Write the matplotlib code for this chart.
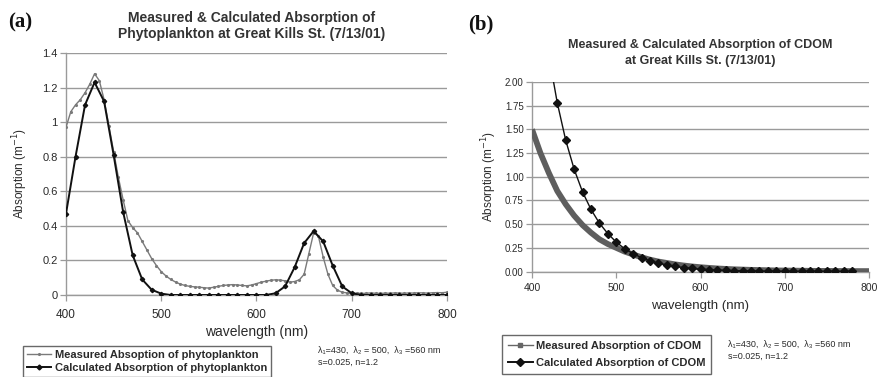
import matplotlib
matplotlib.use("Agg")
from matplotlib import pyplot as plt
from matplotlib.lines import Line2D

# (a) phytoplankton absorption, measured at 5 nm and calculated at 10 nm
wl_meas_a = list(range(400, 805, 5))
meas_a = [0.97, 1.06, 1.10, 1.13, 1.17, 1.22, 1.28, 1.24, 1.13, 0.98,
          0.83, 0.68, 0.55, 0.43, 0.39, 0.36, 0.31, 0.26, 0.21, 0.17,
          0.135, 0.11, 0.09, 0.075, 0.063, 0.055, 0.05, 0.047, 0.045, 0.042,
          0.040, 0.045, 0.050, 0.055, 0.058, 0.060, 0.058, 0.055, 0.053, 0.058,
          0.066, 0.074, 0.080, 0.085, 0.088, 0.086, 0.082, 0.074, 0.078, 0.088,
          0.12, 0.24, 0.36, 0.34, 0.22, 0.12, 0.055, 0.028, 0.016, 0.012,
          0.010, 0.011, 0.009, 0.010, 0.012, 0.010, 0.009, 0.011, 0.010, 0.012,
          0.011, 0.010, 0.012, 0.011, 0.013, 0.012, 0.011, 0.013, 0.014, 0.013,
          0.016]
wl_calc_a = list(range(400, 810, 10))
calc_a = [0.47, 0.80, 1.10, 1.23, 1.12, 0.81, 0.48, 0.23, 0.09, 0.03,
          0.008, 0, 0, 0, 0, 0, 0, 0, 0, 0,
          0, 0, 0.01, 0.05, 0.16, 0.30, 0.37, 0.31, 0.17, 0.05,
          0.01, 0, 0, 0, 0, 0, 0, 0, 0, 0,
          0]

# (b) CDOM absorption
wl_meas_b = list(range(400, 810, 10))
meas_b = [1.50, 1.25, 1.04, 0.85, 0.71, 0.59, 0.49, 0.41, 0.34, 0.29,
          0.25, 0.21, 0.18, 0.15, 0.125, 0.105, 0.09, 0.075, 0.063, 0.053,
          0.045, 0.038, 0.032, 0.027, 0.023, 0.020, 0.017, 0.015, 0.013, 0.011,
          0.010, 0.009, 0.008, 0.007, 0.006, 0.006, 0.005, 0.005, 0.004, 0.004,
          0.004]
wl_calc_b = list(range(420, 790, 10))
calc_b = [2.28, 1.78, 1.386, 1.08, 0.84, 0.655, 0.51, 0.40, 0.31, 0.24,
          0.188, 0.146, 0.114, 0.089, 0.069, 0.054, 0.042, 0.033, 0.025, 0.020,
          0.015, 0.012, 0.009, 0.007, 0.006, 0.0044, 0.0035, 0.0027, 0.0021, 0.0016,
          0.0013, 0.001, 0.0008, 0.0007, 0.0006, 0.0005, 0.0004]

xticks = [400, 500, 600, 700, 800]
yticks_a = [0, 0.2, 0.4, 0.6, 0.8, 1, 1.2, 1.4]
yticks_b = [0, 0.25, 0.5, 0.75, 1.0, 1.25, 1.5, 1.75, 2.0]

SANS = ['Liberation Sans', 'DejaVu Sans']
NARROW = ['Liberation Sans Narrow', 'Liberation Sans', 'DejaVu Sans']
GRID = '#9a9a9a'
TXT = '#2a2a2a'

plt.rcParams['font.family'] = SANS

fig = plt.figure(figsize=(8.79, 3.77), dpi=100)
W, H = 879, 377


def px_axes(x0, y0, x1, y1):
    return fig.add_axes([x0 / W, 1 - y1 / H, (x1 - x0) / W, (y1 - y0) / H])


def style(ax, yticks, fmt, fs_x, fs_y):
    ax.set_xlim(400, 800)
    ax.set_ylim(yticks[0], yticks[-1])
    ax.set_xticks(xticks)
    ax.set_yticks(yticks)
    ax.set_yticklabels([fmt(v) for v in yticks])
    ax.tick_params(axis='x', labelsize=fs_x, colors=GRID, labelcolor=TXT, length=4, width=0.9, pad=6)
    ax.tick_params(axis='y', labelsize=fs_y, colors=GRID, labelcolor=TXT, length=4, width=0.9, pad=2)
    for s in ['top', 'right']:
        ax.spines[s].set_visible(False)
    for s in ['left', 'bottom']:
        ax.spines[s].set_color(GRID)
        ax.spines[s].set_linewidth(1.0)
    ax.grid(axis='y', color=GRID, linewidth=1.0)
    ax.set_axisbelow(True)


def legend(ax, handles, labels, x, y, spacing, pad):
    leg = ax.legend(handles, labels, loc='upper left', bbox_to_anchor=(x / W, 1 - y / H),
                    bbox_transform=fig.transFigure, borderaxespad=0,
                    frameon=True, fancybox=False, handlelength=2.2, handletextpad=0.3, borderpad=pad,
                    labelspacing=spacing, prop={'family': NARROW, 'size': 8, 'weight': 'bold'})
    leg.get_frame().set_edgecolor('#444444')
    leg.get_frame().set_linewidth(1.0)
    for t in leg.get_texts():
        t.set_color(TXT)
    return leg


# panel (a)
ax1 = px_axes(66, 53, 447, 295)
ax1.plot(wl_meas_a, meas_a, color='#7a7a7a', linewidth=1.0, marker='.', markersize=2.5, zorder=3)
ax1.plot(wl_calc_a, calc_a, color='#111111', linewidth=1.4, marker='D', markersize=2.2, zorder=4)
style(ax1, yticks_a, lambda v: '%g' % v, 8.5, 8)
ax1.set_ylabel('Absorption (m$^{-1}$)', fontsize=8.5, color=TXT, labelpad=9)
ax1.set_xlabel('wavelength (nm)', fontsize=10, color=TXT, labelpad=3)

fig.text(252 / W, 1 - 26 / H, 'Measured & Calculated Absorption of\nPhytoplankton at Great Kills St. (7/13/01)',
         ha='center', va='center', fontsize=10, fontweight='bold', color='#333333', linespacing=1.15)
fig.text(8 / W, 1 - 22 / H, '(a)', ha='left', va='center', fontsize=15, fontweight='bold',
         family=['Liberation Serif', 'DejaVu Serif'], color='#111111')

hand_a = [Line2D([], [], color='#7a7a7a', linewidth=1.0, marker='.', markersize=2.5),
          Line2D([], [], color='#111111', linewidth=1.4, marker='D', markersize=2.5)]
legend(ax1, hand_a, ['Measured Absoption of phytoplankton', 'Calculated Absorption of phytoplankton'],
       23, 346, 0.25, 0.35)

fig.text(318 / W, 1 - 356 / H, 'λ₁=430,  λ₂ = 500,  λ₃ =560 nm\ns=0.025, n=1.2', ha='left', va='center',
         fontsize=6.5, family=NARROW, color=TXT, linespacing=1.45)

# panel (b)
ax2 = px_axes(532, 82, 869, 271.5)
ax2.plot(wl_meas_b, meas_b, color='#5e5e5e', linewidth=4.2, solid_capstyle='butt', zorder=3)
ax2.plot(wl_calc_b, calc_b, color='#111111', linewidth=1.0, marker='D', markersize=4, zorder=4)
style(ax2, yticks_b, lambda v: '%.2f' % v, 7.5, 7)
ax2.set_ylabel('Absorption (m$^{-1}$)', fontsize=8.5, color=TXT, labelpad=4)
ax2.set_xlabel('wavelength (nm)', fontsize=9.5, color=TXT, labelpad=5)
ax2.tick_params(axis='x', pad=4)

fig.text(700 / W, 1 - 53 / H, 'Measured & Calculated Absorption of CDOM\nat Great Kills St. (7/13/01)',
         ha='center', va='center', fontsize=9, fontweight='bold', color='#333333', linespacing=1.55)
fig.text(468 / W, 1 - 24 / H, '(b)', ha='left', va='center', fontsize=15, fontweight='bold',
         family=['Liberation Serif', 'DejaVu Serif'], color='#111111')

hand_b = [Line2D([], [], color='#666666', linewidth=1.0, marker='s', markersize=2.5),
          Line2D([], [], color='#111111', linewidth=1.4, marker='D', markersize=4)]
legend(ax2, hand_b, ['Measured Absorption of CDOM', 'Calculated Absorption of CDOM'],
       502, 335, 0.65, 0.55)

fig.text(728 / W, 1 - 350 / H, 'λ₁=430,  λ₂ = 500,  λ₃ =560 nm\ns=0.025, n=1.2', ha='left', va='center',
         fontsize=6.5, family=NARROW, color=TXT, linespacing=1.45)

fig.savefig('out.png', dpi=100)
